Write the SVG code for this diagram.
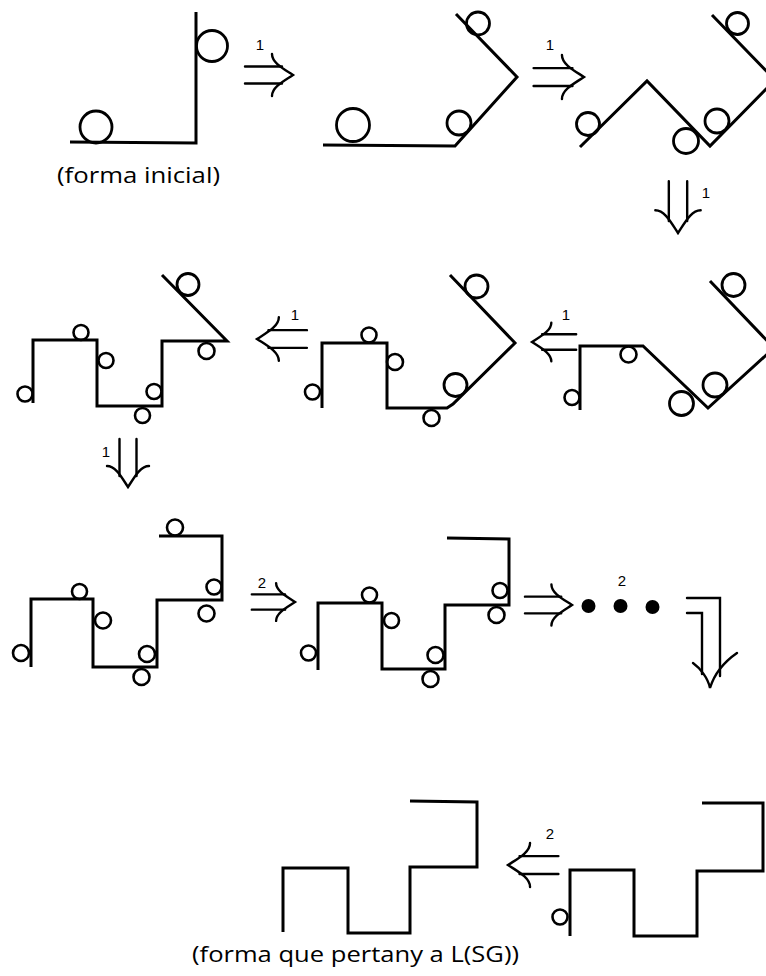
<svg xmlns="http://www.w3.org/2000/svg" xmlns:xlink="http://www.w3.org/1999/xlink" width="766" height="976" viewBox="0 0 766 976">
  <style>
    .ln { fill: none; stroke: #000; stroke-width: 3; stroke-linejoin: miter; stroke-linecap: butt; }
    .c { fill: none; stroke: #000; stroke-width: 2.6; }
    .c2 { fill: none; stroke: #000; stroke-width: 2.8; }
    .arr path { fill: none; stroke: #000; stroke-width: 2.4; stroke-linecap: round; }
    .num { font-family: "Liberation Sans", Arial, sans-serif; font-size: 15px; fill: #000; text-anchor: middle; }
    .cap { font-family: "Open Sans", "Liberation Sans", Arial, sans-serif; font-size: 22.5px; fill: #000; }
    .dot { fill: #000; }
  </style>
  <defs>
    <!-- double arrow pointing right, tip at origin -->
    <g id="dbl" class="arr">
      <path vector-effect="non-scaling-stroke" d="M-48,-8.5H-11M-48,8.5H-11"/>
      <path vector-effect="non-scaling-stroke" d="M-21,-21C-21,-12 -9,-6 0,0C-9,6 -21,12 -21,21"/>
    </g>
  </defs>
  <rect width="766" height="976" fill="#fff"/>

  <!-- shape 1: initial form -->
  <g id="shape1">
    <polyline class="ln" points="70,142 196,143 196,12"/>
    <circle class="c2" cx="96" cy="127" r="16"/>
    <circle class="c2" cx="212" cy="46" r="15.5"/>
  </g>

  <!-- shape 2 -->
  <g id="shape2">
    <polyline class="ln" points="323,145 455,146 517,77 456,14"/>
    <circle class="c2" cx="353" cy="125" r="16.5"/>
    <circle class="c2" cx="459" cy="123" r="12"/>
    <circle class="c2" cx="478" cy="23.5" r="11.5"/>
  </g>

  <!-- shape 3 -->
  <g id="shape3">
    <polyline class="ln" points="580,147 647,81 710,146 775,80 712,15"/>
    <circle class="c2" cx="737.5" cy="23.5" r="11"/>
    <circle class="c2" cx="588" cy="124" r="11.5"/>
    <circle class="c2" cx="686" cy="141" r="12.5"/>
    <circle class="c2" cx="717" cy="121" r="12"/>
  </g>

  <!-- shape 4 -->
  <g id="shape4">
    <polyline class="ln" points="33,403 33,340 97,340 97,406 162,406 162,341 227,341 162,275"/>
    <circle class="c2" cx="188" cy="284.5" r="11"/>
    <circle class="c" cx="25" cy="394" r="7.5"/>
    <circle class="c" cx="81" cy="332.5" r="7.5"/>
    <circle class="c" cx="106" cy="360.5" r="7.5"/>
    <circle class="c" cx="142.5" cy="415.5" r="7.5"/>
    <circle class="c" cx="154" cy="391.5" r="7.5"/>
    <circle class="c" cx="206.5" cy="351" r="8"/>
  </g>

  <!-- shape 5 -->
  <g id="shape5">
    <polyline class="ln" points="322,408 322,343 387,343 387,408 447,408 453,404 515,343 450,275"/>
    <circle class="c2" cx="476.5" cy="286.5" r="11.5"/>
    <circle class="c" cx="312.5" cy="392" r="7.5"/>
    <circle class="c" cx="369" cy="335" r="7.5"/>
    <circle class="c" cx="395" cy="362" r="8"/>
    <circle class="c" cx="431.5" cy="418" r="8"/>
    <circle class="c2" cx="455.5" cy="385" r="11.5"/>
  </g>

  <!-- shape 6 -->
  <g id="shape6">
    <polyline class="ln" points="580,410 580,346 643,346 708,408 774,348 710,281"/>
    <circle class="c2" cx="733.5" cy="285" r="11.5"/>
    <circle class="c" cx="572" cy="397.5" r="7.5"/>
    <circle class="c" cx="628.5" cy="354.5" r="8"/>
    <circle class="c2" cx="681.5" cy="403.5" r="12"/>
    <circle class="c2" cx="715" cy="385" r="12"/>
  </g>

  <!-- shape 7 -->
  <g id="shape7">
    <polyline class="ln" points="31,667 31,599 93,599 93,667 157,667 157,600 222,600 222,536 159,536"/>
    <circle class="c" cx="175" cy="527.5" r="8"/>
    <circle class="c" cx="214" cy="587" r="7.5"/>
    <circle class="c" cx="206.5" cy="613.5" r="8"/>
    <circle class="c" cx="79.5" cy="591.5" r="7.5"/>
    <circle class="c" cx="103" cy="620.5" r="8"/>
    <circle class="c" cx="21" cy="653" r="8"/>
    <circle class="c" cx="147" cy="654" r="8"/>
    <circle class="c" cx="141.5" cy="677" r="8"/>
  </g>

  <!-- shape 8 -->
  <g id="shape8">
    <polyline class="ln" points="318,670 318,603 382,603 382,669 445,669 445,605 509,605 509,539 447,538"/>
    <circle class="c" cx="369.5" cy="595" r="7.5"/>
    <circle class="c" cx="391.5" cy="620.5" r="7.5"/>
    <circle class="c" cx="308.5" cy="653" r="7.5"/>
    <circle class="c" cx="435.5" cy="655" r="8"/>
    <circle class="c" cx="430.5" cy="679" r="8"/>
    <circle class="c" cx="500" cy="590.5" r="7.5"/>
    <circle class="c" cx="496.5" cy="615" r="8"/>
  </g>

  <!-- ellipsis: repeated steps -->
  <g id="ellipsis">
    <circle class="dot" cx="588.5" cy="606" r="7"/>
    <circle class="dot" cx="620.5" cy="606" r="7"/>
    <circle class="dot" cx="652.5" cy="607" r="7"/>
  </g>

  <!-- shape 9: final form -->
  <g id="shape9">
    <polyline class="ln" points="283,932 283,868 348,868 348,933 410,933 410,867 477,867 477,802 410,801"/>
  </g>

  <!-- shape 10 -->
  <g id="shape10">
    <polyline class="ln" points="570,936 570,870 634,870 634,936 697,936 697,871 763,871 763,803 702,803"/>
    <circle class="c" cx="560" cy="917" r="7.5"/>
  </g>

  <!-- rewriting steps -->
  <g id="connectors">
    <use xlink:href="#dbl" transform="translate(293,75)"/>
    <use xlink:href="#dbl" transform="translate(584,77) scale(1.05)"/>
    <use xlink:href="#dbl" transform="translate(678,233) rotate(90) scale(1.08)"/>
    <use xlink:href="#dbl" transform="translate(257,339) rotate(180) scale(1.04)"/>
    <use xlink:href="#dbl" transform="translate(532,342) rotate(180) scale(0.92)"/>
    <use xlink:href="#dbl" transform="translate(128,487) rotate(90)"/>
    <use xlink:href="#dbl" transform="translate(295,602) scale(0.9)"/>
    <use xlink:href="#dbl" transform="translate(572,605) scale(0.98)"/>
    <use xlink:href="#dbl" transform="translate(508,865) rotate(180) scale(1.05)"/>
    <!-- bent arrow down to the last row -->
    <g class="arr">
      <path d="M687,598H720V676M687,613H702V674"/>
      <path d="M693,663C700,668 708,678 710,688C714,675 724,662 737,653"/>
    </g>
    <text class="num" x="260" y="50">1</text>
    <text class="num" x="550" y="50">1</text>
    <text class="num" x="706" y="198">1</text>
    <text class="num" x="295" y="320">1</text>
    <text class="num" x="566" y="320">1</text>
    <text class="num" x="106" y="457">1</text>
    <text class="num" x="262" y="588">2</text>
    <text class="num" x="622" y="586">2</text>
    <text class="num" x="550" y="839">2</text>
  </g>

  <text class="cap" x="57" y="183" textLength="163" lengthAdjust="spacingAndGlyphs">(forma inicial)</text>
  <text class="cap" x="192" y="962" textLength="327" lengthAdjust="spacingAndGlyphs">(forma que pertany a L(SG))</text>
</svg>
